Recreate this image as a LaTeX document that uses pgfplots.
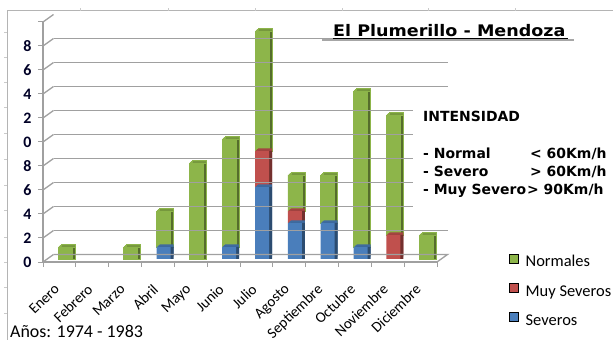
\documentclass[border=0pt]{standalone}
\usepackage{fontspec}
\setmainfont{Carlito}
\newfontfamily\tahoma{DejaVu Sans}
\usepackage{pgfplots}
\pgfplotsset{compat=1.18}

\definecolor{cgreen}{HTML}{8DB54A}
\definecolor{cred}{HTML}{C0504D}
\definecolor{cblue}{HTML}{4A7EBB}
\definecolor{gridc}{HTML}{A0A0A0}
\definecolor{framec}{HTML}{B4B4B4}

% top face (mid tone) and side face (dark tone) of the 3-D columns
\tikzset{
  depth/.style={
    preaction={fill=#1!85!black, transform canvas={shift={(1bp,1bp)}}},
    preaction={fill=#1!85!black, transform canvas={shift={(2bp,1.8bp)}}},
    preaction={fill=#1!85!black, transform canvas={shift={(3bp,2.6bp)}}},
    preaction={fill=#1!60!black, transform canvas={shift={(3bp,0bp)}}}
  }
}
\pgfplotsset{
  legsq/.style={legend image code/.code={\fill[##1] (0bp,-1bp) rectangle (9bp,8bp);}}
}

\begin{document}
\begin{tikzpicture}
\path[use as bounding box] (0,0) rectangle (613bp,340bp);

% outer frame
\draw[framec, line width=1bp] (7bp,0bp) -- (7bp,329bp) -- (613bp,329bp);
\foreach \yy in {32,57,82,107,133,159,185,210,237,262,287,313}
  \draw[framec!70, line width=0.6bp] (4bp,{(340-\yy)*1bp}) -- (7bp,{(340-\yy)*1bp});
\foreach \xx in {80,168,255,342,428,515}
  \draw[framec!70, line width=0.6bp] ({\xx*1bp},329bp) -- ({\xx*1bp},332bp);

\begin{axis}[
  at={(43bp,78bp)}, anchor=south west,
  x=32.833bp, y=12bp,
  xmin=-0.5, xmax=11.5, ymin=0, ymax=20,
  clip=false,
  axis x line*=bottom, axis y line*=left,
  axis line style={draw=gridc, line width=1.3bp, -},
  ybar stacked, bar width=14bp,
  xtick={0,...,11},
  xticklabels={Enero,Febrero,Marzo,Abril,Mayo,Junio,Julio,Agosto,Septiembre,Octubre,Noviembre,Diciembre},
  major x tick style={draw=none},
  minor xtick={-0.5,0.5,...,11.5},
  ytick={0,2,...,20},
  yticklabels={0,2,4,6,8,0,2,4,6,8,{}},
  tick align=outside,
  major tick length=5bp, minor tick length=5bp,
  tick style={draw=gridc, line width=1bp},
  xticklabel style={rotate=44, anchor=north east, xshift=-12bp, yshift=-4bp,
    font=\fontsize{15}{18}\selectfont, text=black},
  yticklabel style={anchor=east, xshift=-3bp,
    font=\bfseries\fontsize{16}{19}\selectfont, text=black!85!blue},
  legend style={at={(1.183,-0.121)}, anchor=west, draw=none, fill=none,
    inner sep=0pt, row sep=13bp, font=\fontsize{16.5}{19}\selectfont,
    /tikz/every odd column/.append style={column sep=5bp}},
  legend cell align=left,
]
% back wall gridlines and floor
\pgfplotsinvokeforeach{2,4,6,8,10,12,14,16,18}{
  \draw[gridc, line width=1.3bp] ([shift={(10.5bp,7.5bp)}]axis cs:-0.5,#1)
    -- ([shift={(10.5bp,7.5bp)}]axis cs:11.5,#1);
}
\pgfplotsinvokeforeach{0,2,4,6,8,10,12,14,16,18,20}{
  \draw[gridc, line width=1.3bp] (axis cs:-0.5,#1)
    -- ([shift={(10.5bp,7.5bp)}]axis cs:-0.5,#1);
}
\draw[gridc, line width=1.3bp] ([shift={(10.5bp,7.5bp)}]axis cs:-0.5,0)
  -- ([shift={(10.5bp,7.5bp)}]axis cs:11.5,0) -- (axis cs:11.5,0);

% Severos
\addplot[forget plot, fill=cblue, draw=none, bar shift=5.6bp, yshift=3bp, depth=cblue]
  coordinates {(0,0) (1,0) (2,0) (3,1) (4,0) (5,1) (6,6) (7,3) (8,3) (9,1) (10,0) (11,0)};
% Muy Severos
\addplot[forget plot, fill=cred, draw=none, bar shift=5.6bp, yshift=3bp, depth=cred]
  coordinates {(0,0) (1,0) (2,0) (3,0) (4,0) (5,0) (6,3) (7,1) (8,0) (9,0) (10,2) (11,0)};
% Normales
\addplot[forget plot, fill=cgreen, draw=cgreen, line width=0.4bp, bar shift=5.6bp, yshift=3bp, depth=cgreen]
  coordinates {(0,1) (1,0) (2,1) (3,3) (4,8) (5,9) (6,10) (7,3) (8,4) (9,13) (10,10) (11,2)};

\addlegendimage{legsq, fill=cgreen}
\addlegendentry{Normales}
\addlegendimage{legsq, fill=cred}
\addlegendentry{Muy Severos}
\addlegendimage{legsq, fill=cblue}
\addlegendentry{Severos}
\end{axis}

% title
\node[anchor=base west, inner sep=0pt, font=\tahoma\bfseries\fontsize{16}{19}\selectfont]
  at (333bp,303.3bp) {\scalebox{1.1}[1]{El Plumerillo - Mendoza}};
\draw[gray!70, line width=1.6bp] (322bp,300bp) -- (574bp,300bp);
\draw[black, line width=0.8bp] (333bp,301.4bp) -- (568bp,301.4bp);

% intensity box
\fill[white] (413bp,125bp) rectangle (613bp,245bp);
\begin{scope}[every node/.style={anchor=base west, inner sep=0pt,
    font=\tahoma\bfseries\fontsize{14}{17}\selectfont}]
  \node at (423bp,218.3bp) {INTENSIDAD};
  \node at (423bp,181.7bp) {- Normal};
  \node at (530bp,181.7bp) {< 60Km/h};
  \node at (423bp,163.3bp) {- Severo};
  \node at (530bp,163.3bp) {> 60Km/h};
  \node at (423bp,145bp) {- Muy Severo};
  \node at (527bp,145bp) {> 90Km/h};
\end{scope}

\node[anchor=base west, inner sep=0pt, font=\fontsize{18}{21}\selectfont]
  at (10bp,3bp) {Años: 1974 - 1983};
\end{tikzpicture}
\end{document}
